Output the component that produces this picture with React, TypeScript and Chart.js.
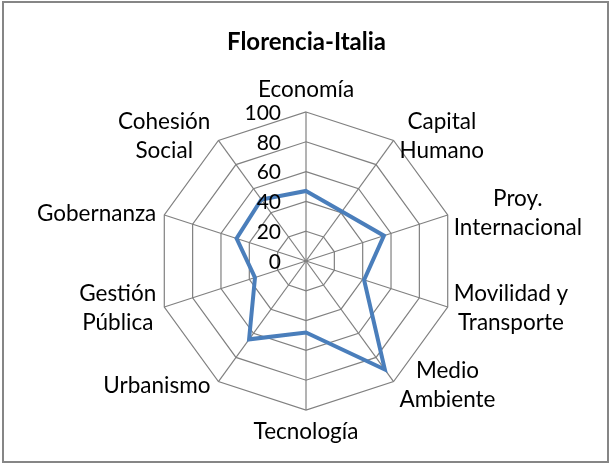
import React, { useEffect, useRef } from 'react';
import { Chart, registerables } from 'chart.js';

Chart.register(...registerables);

const TITLE = 'Florencia-Italia';
const categories: string[][] = [
  ['Economía'],
  ['Capital', 'Humano'],
  ['Proy.', 'Internacional'],
  ['Movilidad y', 'Transporte'],
  ['Medio', 'Ambiente'],
  ['Tecnología'],
  ['Urbanismo'],
  ['Gestión', 'Pública'],
  ['Gobernanza'],
  ['Cohesión', 'Social'],
];
const values = [47, 41, 55, 41, 90, 48, 65, 36, 49, 51];
const tickValues = [0, 20, 40, 60, 80, 100];

const FONT = 'Lato, "Open Sans", sans-serif';
const LABEL_SIZE = 22.5;
const TICK_SIZE = 21;
const LINE_H = 29;

const overlay = {
  id: 'overlay',
  beforeDraw(chart: any) {
    const ctx = chart.ctx;
    ctx.save();
    ctx.fillStyle = '#ffffff';
    ctx.fillRect(0, 0, chart.width, chart.height);
    ctx.strokeStyle = '#868686';
    ctx.lineWidth = 2;
    ctx.strokeRect(3, 2, 605, 460);
    ctx.restore();
  },
  afterDraw(chart: any) {
    const s = chart.scales.r;
    const ctx = chart.ctx;
    ctx.save();
    ctx.fillStyle = '#000000';
    ctx.font = `${TICK_SIZE}px ${FONT}`;
    ctx.textAlign = 'right';
    ctx.textBaseline = 'middle';
    s.ticks.forEach((t: any) => {
      const d = s.getDistanceFromCenterForValue(t.value);
      ctx.fillText(String(t.value), s.xCenter - 25, s.yCenter - d + 1);
    });
    ctx.font = `${LABEL_SIZE}px ${FONT}`;
    const labels = chart.data.labels as any[];
    labels.forEach((lab, i) => {
      const lines: string[] = Array.isArray(lab) ? lab : [lab];
      const p = s.getPointPosition(i, s.drawingArea);
      const theta = s.getIndexAngle(i);
      const deg = Math.round((theta * 180) / Math.PI) % 360;
      const maxW = Math.max(...lines.map((l) => ctx.measureText(l).width));
      let cx = p.x;
      let cy = p.y;
      const half = ((lines.length - 1) * LINE_H) / 2;
      if (deg === 0) {
        cy = p.y - 22 - half;
      } else if (deg === 180) {
        cy = p.y + 22 + half;
      } else if (deg < 180) {
        cx = p.x + 6 + maxW / 2;
        cy = p.y - 5 * Math.cos(theta);
      } else {
        cx = p.x - 8 - maxW / 2;
        cy = p.y - 5 * Math.cos(theta);
      }
      ctx.textAlign = 'center';
      lines.forEach((l, k) => {
        ctx.fillText(l, cx, cy - half + k * LINE_H);
      });
    });
    ctx.restore();
  },
};

export default function App() {
  const ref = useRef<HTMLCanvasElement | null>(null);
  useEffect(() => {
    if (!ref.current) return;
    const chart = new Chart(ref.current, {
      type: 'radar',
      data: {
        labels: categories,
        datasets: [
          {
            label: TITLE,
            data: values,
            borderColor: '#4A7EBB',
            borderWidth: 4,
            pointRadius: 0,
            pointHoverRadius: 0,
            fill: false,
            tension: 0,
            borderJoinStyle: 'miter',
          },
        ],
      },
      options: {
        responsive: false,
        animation: false,
        devicePixelRatio: 1,
        layout: { padding: { left: 9, right: 6, top: 0, bottom: 54 } },
        plugins: {
          legend: { display: false },
          tooltip: { enabled: false },
          title: {
            display: true,
            text: TITLE,
            color: '#000000',
            font: { family: FONT, size: 24, weight: 'bold', lineHeight: 1 },
            padding: { top: 30, bottom: 58 },
          },
        },
        scales: {
          r: {
            min: 0,
            max: 100,
            afterBuildTicks: (scale: any) => {
              scale.ticks = tickValues.map((v) => ({ value: v }));
            },
            ticks: { display: false, stepSize: 20 },
            pointLabels: { display: false },
            grid: { color: '#808080', lineWidth: 1.2 },
            angleLines: { color: '#808080', lineWidth: 1.2 },
          },
        },
      },
      plugins: [overlay],
    });
    return () => chart.destroy();
  }, []);
  return (
    <div style={{ position: 'fixed', left: 0, top: 0, width: 610, height: 464 }}>
      <canvas ref={ref} width={610} height={464} style={{ width: 610, height: 464, display: 'block' }} />
    </div>
  );
}
